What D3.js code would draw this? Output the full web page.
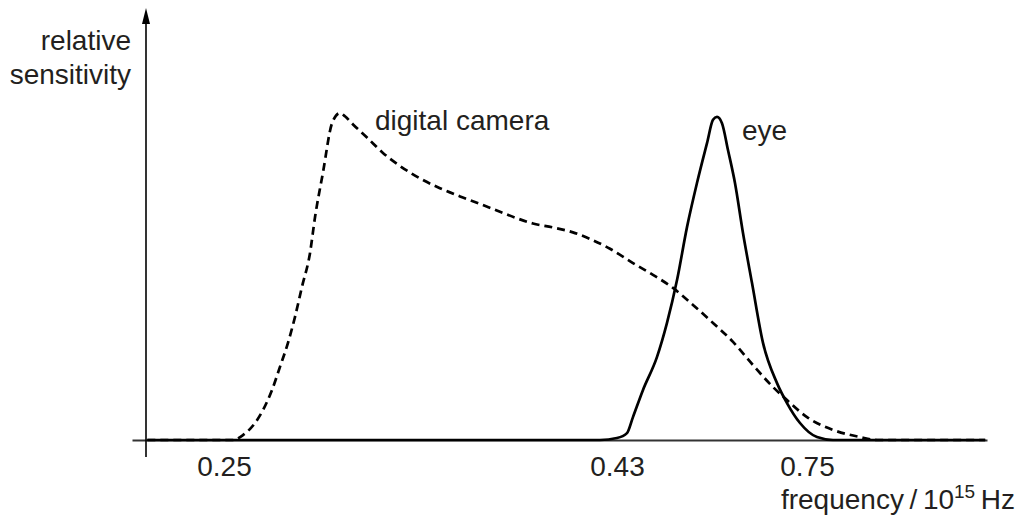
<!DOCTYPE html>
<html>
<head>
<meta charset="utf-8">
<script src="https://cdn.jsdelivr.net/npm/d3@7"></script>
<style>
  html, body { margin: 0; padding: 0; background: #fff; }
  svg { display: block; }
  text { font-family: "Liberation Sans", Arial, Helvetica, sans-serif; fill: #231f20; }
</style>
</head>
<body>
<svg id="chart" width="1022" height="520"></svg>
<script>
// Frequency (10^15 Hz) and relative sensitivity of a digital camera sensor
const cameraFreq = [0.215, 0.254, 0.2587, 0.2642, 0.2679, 0.272, 0.2756, 0.2793, 0.2825, 0.2857,
  0.2894, 0.2917, 0.2953, 0.2995, 0.3031, 0.3054, 0.3091, 0.3155, 0.3228, 0.3306, 0.3398,
  0.3489, 0.3581, 0.3673, 0.3764, 0.3842, 0.3915, 0.4007, 0.4098, 0.4176, 0.4268, 0.4569,
  0.4906, 0.5243, 0.558, 0.5917, 0.6254, 0.6591, 0.6927, 0.7163, 0.75, 0.7938, 0.8393,
  0.8679, 1.05];
const cameraSens = [0, 0, 0.015, 0.052, 0.092, 0.153, 0.223, 0.297, 0.376, 0.468,
  0.572, 0.682, 0.817, 0.969, 1.0, 0.99, 0.965, 0.925, 0.878, 0.838, 0.8,
  0.77, 0.745, 0.722, 0.698, 0.678, 0.662, 0.65, 0.635, 0.615, 0.585, 0.541,
  0.505, 0.465, 0.413, 0.358, 0.3, 0.229, 0.162, 0.122, 0.07, 0.031, 0.009,
  0, 0];

// Relative sensitivity of the human eye
const eyeFreq = [0.215, 0.4222, 0.43, 0.4468, 0.4569, 0.4738, 0.4974, 0.5142, 0.5311, 0.5479,
  0.5647, 0.5816, 0.5917, 0.5984, 0.6068, 0.6169, 0.6287, 0.6422, 0.6574, 0.6759,
  0.6995, 0.7163, 0.7382, 0.7668, 0.7938, 1.05];
const eyeSens = [0, 0, 0.006, 0.021, 0.07, 0.153, 0.254, 0.358, 0.489, 0.651,
  0.786, 0.908, 0.979, 0.988, 0.969, 0.887, 0.786, 0.633, 0.48, 0.297,
  0.174, 0.113, 0.052, 0.009, 0, 0];

// Labelled frequencies on the horizontal axis (schematic, not to scale)
const tickValues = [0.25, 0.43, 0.75];
const tickLabels = ["0.25", "0.43", "0.75"];
const axisEnds = [0.208, 1.053];

const svg = d3.select("#chart");
const fs = 28;

// Piecewise-linear frequency axis: the labelled points are spaced schematically
const x = d3.scaleLinear()
  .domain([axisEnds[0], ...tickValues, axisEnds[1]])
  .range([132, 224, 617, 807, 987]);

const y = d3.scaleLinear().domain([0, 1]).range([440, 113]);

// Horizontal axis with the three labelled frequencies
const xAxis = d3.axisBottom(x)
  .tickValues(tickValues)
  .tickFormat((d, i) => tickLabels[i])
  .tickSizeInner(0)
  .tickSizeOuter(0)
  .tickPadding(16);

const gx = svg.append("g")
  .attr("transform", `translate(0,${y(0)})`)
  .call(xAxis);
gx.select(".domain").attr("stroke", "#333").attr("stroke-width", 2.2);
gx.selectAll(".tick text")
  .attr("font-size", fs)
  .attr("font-family", "Liberation Sans, Arial, sans-serif")
  .attr("fill", "#231f20");

// Vertical axis with arrow head
const yAxisX = 146;
svg.append("line")
  .attr("x1", yAxisX).attr("x2", yAxisX)
  .attr("y1", y(-0.052)).attr("y2", 20)
  .attr("stroke", "#000").attr("stroke-width", 1.6);
svg.append("path")
  .attr("d", `M${yAxisX},8 L${yAxisX - 4},24 L${yAxisX + 4},24 Z`)
  .attr("fill", "#000");

// Curves
const line = d3.line()
  .x(d => x(d[0]))
  .y(d => y(d[1]))
  .curve(d3.curveMonotoneX);

svg.append("path")
  .datum(cameraFreq.map((f, i) => [f, cameraSens[i]]))
  .attr("d", line)
  .attr("fill", "none")
  .attr("stroke", "#000")
  .attr("stroke-width", 2.7)
  .attr("stroke-dasharray", "8,5");

svg.append("path")
  .datum(eyeFreq.map((f, i) => [f, eyeSens[i]]))
  .attr("d", line)
  .attr("fill", "none")
  .attr("stroke", "#000")
  .attr("stroke-width", 2.7);

// Text labels
svg.append("text").attr("x", 131).attr("y", 50).attr("text-anchor", "end")
  .attr("font-size", fs).text("relative");
svg.append("text").attr("x", 131).attr("y", 84).attr("text-anchor", "end")
  .attr("font-size", fs).text("sensitivity");

svg.append("text").attr("x", 375).attr("y", 130)
  .attr("font-size", fs).text("digital camera");
svg.append("text").attr("x", 742).attr("y", 140)
  .attr("font-size", fs).text("eye");

const xl = svg.append("text").attr("x", 1015).attr("y", 509)
  .attr("text-anchor", "end").attr("font-size", fs);
xl.append("tspan").text("frequency\u2009/\u200910");
xl.append("tspan").attr("font-size", 19).attr("dy", -11).text("15");
xl.append("tspan").attr("dy", 11).text("\u2009Hz");
</script>
</body>
</html>
